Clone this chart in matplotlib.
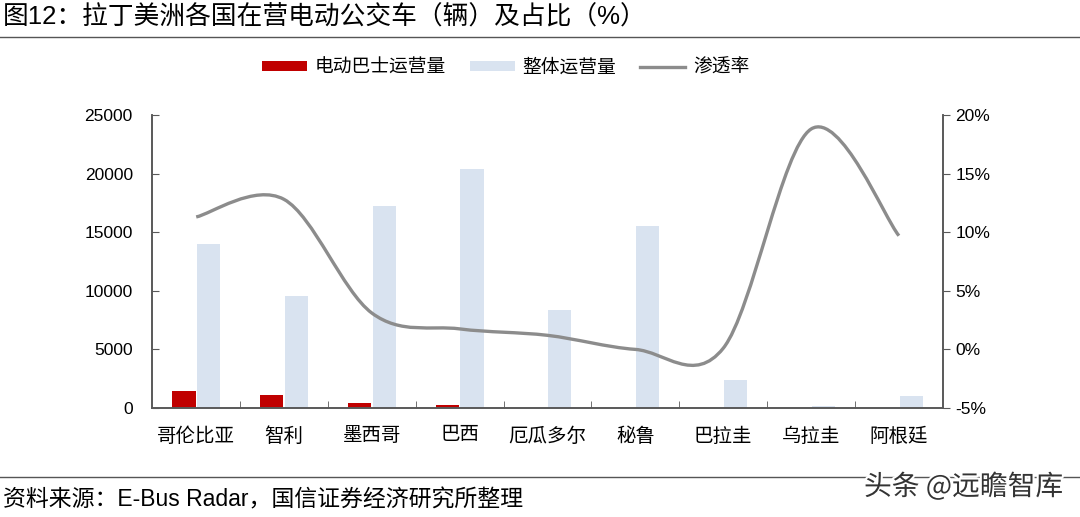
import numpy as np
import matplotlib
matplotlib.use("Agg")
import matplotlib.pyplot as plt
from matplotlib.path import Path
from matplotlib.patches import PathPatch
from matplotlib.lines import Line2D
from matplotlib.ticker import FuncFormatter
import matplotlib.patheffects as pe

plt.rcParams['font.family'] = ['Liberation Sans', 'Noto Sans CJK SC', 'DejaVu Sans']
plt.rcParams['axes.unicode_minus'] = False

countries = ['哥伦比亚', '智利', '墨西哥', '巴西', '厄瓜多尔', '秘鲁', '巴拉圭', '乌拉圭', '阿根廷']
ebus = [1450, 1100, 450, 240, 0, 0, 0, 28, 0]
total = [14000, 9560, 17200, 20400, 8400, 15500, 2400, 150, 1000]
share = [11.3, 12.8, 3.1, 1.75, 1.2, 0.0, 0.1, 18.8, 9.7]

red = '#C00000'
blue = '#D9E3F0'
gray = '#8C8C8C'
axis_color = '#595959'

fig = plt.figure(figsize=(10.8, 5.17), dpi=100)
ax = fig.add_axes([0.141, 0.2108, 0.732, 0.5668])
ax2 = ax.twinx()

x = np.arange(len(countries))
w = 0.265
b1 = ax.bar(x - 0.14, ebus, w, color=red, label='电动巴士运营量', zorder=2)
b2 = ax.bar(x + 0.14, total, w, color=blue, label='整体运营量', zorder=2)

# smoothed line (Excel-style Catmull-Rom bezier)
pts = np.column_stack([x, share]).astype(float)
ext = np.vstack([pts[0], pts, pts[-1]])
verts = [pts[0]]
codes = [Path.MOVETO]
for i in range(len(pts) - 1):
    p0, p1, p2, p3 = ext[i], ext[i + 1], ext[i + 2], ext[i + 3]
    verts += [p1 + (p2 - p0) / 6, p2 - (p3 - p1) / 6, p2]
    codes += [Path.CURVE4] * 3
ax2.add_patch(PathPatch(Path(verts, codes), fill=False, edgecolor=gray, lw=2.4, zorder=3))

ax.set_xlim(-0.5, len(countries) - 0.5)
ax.set_ylim(0, 25000)
ax.set_yticks(range(0, 25001, 5000))
ax2.set_ylim(-5, 20)
ax2.set_yticks(range(-5, 21, 5))
ax2.yaxis.set_major_formatter(FuncFormatter(lambda v, p: f'{v:.0f}%'))

ax.set_xticks(x)
ax.set_xticklabels(countries, fontsize=14)
ax.set_xticks(np.arange(0.5, len(countries) - 1, 1), minor=True)
ax.tick_params(axis='x', which='major', length=0, pad=14)
ax.tick_params(axis='x', which='minor', direction='in', length=5, color=axis_color)
ax.tick_params(axis='y', direction='in', length=5, color=axis_color, labelsize=12.5, pad=14)
ax2.tick_params(axis='y', direction='out', length=5, color=axis_color, labelsize=12.5, pad=4)

for a in (ax, ax2):
    a.spines['top'].set_visible(False)
    for s in ('left', 'right', 'bottom'):
        a.spines[s].set_color(axis_color)
        a.spines[s].set_linewidth(1.2)

handles = [b1, b2, Line2D([], [], color=gray, lw=2.4)]
labels = ['电动巴士运营量', '整体运营量', '渗透率']
fig.legend(handles, labels, loc='center', bbox_to_anchor=(0.468, 0.868), ncol=3,
           frameon=False, fontsize=13.5, handlelength=2.4, handleheight=0.45,
           columnspacing=1.3, handletextpad=0.4)

fig.text(0.003, 0.968, '图12：拉丁美洲各国在营电动公交车（辆）及占比（%）', fontsize=18.5,
         ha='left', va='center', color='black')
fig.add_artist(Line2D([0, 1], [0.928, 0.928], transform=fig.transFigure, color='#555555', lw=1))
fig.add_artist(Line2D([0, 1], [0.077, 0.077], transform=fig.transFigure, color='#555555', lw=1))
fig.text(0.003, 0.033, '资料来源：E-Bus Radar，国信证券经济研究所整理', fontsize=16.5,
         ha='left', va='center', color='black')
fig.text(0.80, 0.058, '头条 @远瞻智库', fontsize=20, ha='left', va='center', color='#333333',
         family=['Noto Sans CJK SC', 'DejaVu Sans'],
         path_effects=[pe.withStroke(linewidth=3, foreground='white')])

fig.savefig('out.png', dpi=100)
